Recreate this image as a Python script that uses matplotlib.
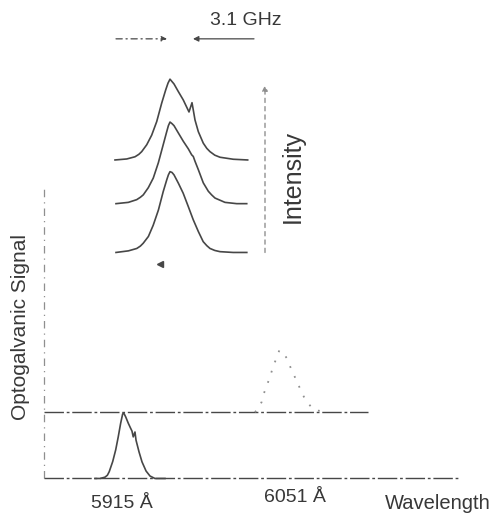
import matplotlib
matplotlib.use("Agg")
import matplotlib.pyplot as plt

plt.rcParams['font.family'] = ['Liberation Sans', 'DejaVu Sans']

# --- optogalvanic scan (wavelength in Angstrom, signal in arb. units) ---
lam1 = [5890.7, 5895.1, 5899.4, 5901.5, 5903.1, 5906.1, 5908.7, 5910.9, 5913.0, 5914.7, 5915.6,
        5917.3, 5919.6, 5921.7, 5922.8, 5923.9, 5925.4, 5926.3, 5928.9, 5931.5, 5935.0,
        5938.4, 5942.7, 5951.4]
sig1 = [0.0, 0.0, 0.02, 0.05, 0.105, 0.26, 0.44, 0.64, 0.85, 0.99, 1.01,
        0.95, 0.85, 0.77, 0.73, 0.64, 0.715, 0.59, 0.41, 0.255, 0.115,
        0.038, 0.0, 0.0]

lam2 = [6029.3, 6031.9, 6035.2, 6037.1, 6042.3, 6044.7, 6050.4, 6053.0, 6057.7, 6060.3,
        6066.9, 6069.8, 6073.3, 6078.5, 6081.3, 6085.7]
sig2 = [0.0, 0.05, 0.16, 0.29, 0.54, 0.68, 0.95, 0.93, 0.81, 0.68,
        0.425, 0.3, 0.185, 0.07, 0.03, 0.02]
offset2 = 1.02
lam_min, lam_max = 5846.6, 6205.2
upper_end = 6127.2

# --- intensity spectra (detuning in GHz, relative intensity) ---
f_top = [-6.875, -5.41, -4.375, -3.9, -3.54, -2.91, -2.29, -1.66, -1.04, -0.54, -0.25, 0.0,
         0.5, 1.04, 1.66, 2.16, 2.375, 2.59, 2.75, 2.91, 3.125, 3.54,
         4.16, 4.6, 5.0, 5.6, 6.25, 7.91, 9.71]
i_top = [0.0, 0.0125, 0.04, 0.07, 0.104, 0.19, 0.31, 0.48, 0.71, 0.875, 0.96, 1.01,
         0.95, 0.855, 0.75, 0.645, 0.6, 0.666, 0.716, 0.625, 0.5, 0.354,
         0.21, 0.145, 0.104, 0.06, 0.034, 0.009, 0.0]
f_mid = [-6.75, -5.21, -4.16, -3.7, -3.34, -2.71, -2.09, -1.46, -0.84, -0.41, -0.2, 0.0,
         0.25, 0.5, 1.04, 1.66, 2.29, 2.71, 2.91, 3.125, 3.54, 4.16, 4.79,
         5.2, 5.625, 6.875, 8.34, 9.59]
i_mid = [0.0, 0.016, 0.05, 0.08, 0.11, 0.2, 0.32, 0.51, 0.74, 0.9, 0.975, 1.02,
         1.0, 0.975, 0.884, 0.78, 0.685, 0.61, 0.59, 0.53, 0.425, 0.26, 0.155,
         0.11, 0.07, 0.016, 0.0, 0.0]
f_bot = [-6.75, -5.2, -4.15, -3.7, -3.35, -2.7, -2.1, -1.45, -0.85, -0.4, -0.2, 0.0,
         0.25, 0.5, 1.05, 1.65, 2.3, 2.9, 3.55, 4.15, 4.6, 5.0, 5.6, 6.25, 7.9, 9.6]
i_bot = [0.0, 0.02, 0.05, 0.08, 0.115, 0.2, 0.34, 0.53, 0.76, 0.91, 0.97, 1.01,
         1.0, 0.97, 0.865, 0.74, 0.57, 0.41, 0.26, 0.135, 0.085, 0.05, 0.025, 0.01, 0.0, 0.0]
offsets = [1.156, 0.61, 0.0]
spacing_label = "3.1 GHz"

ink = '#474747'
faint = '#8f8f8f'
txt = '#383838'

fig = plt.figure(figsize=(5.0, 5.16), dpi=100)

# main optogalvanic axes
ax = fig.add_axes([0.088, 0.0727, 0.828, 0.5688])
ax.set_xlim(lam_min, lam_max)
ax.set_ylim(0, 4.515)
ax.axis('off')
ax.axvline(lam_min, color=faint, lw=0.9, ls=(0, (6, 4, 1, 4)), clip_on=False)
ax.plot([lam_min, lam_max], [0, 0], color=ink, lw=1.0, ls=(0, (14, 2, 2, 2)), clip_on=False)
ax.plot([lam_min, upper_end], [offset2, offset2], color=ink, lw=1.0, ls=(0, (14, 2, 2, 2)),
        clip_on=False)
ax.plot(lam1, sig1, color=ink, lw=1.2, solid_joinstyle='round', clip_on=False)
ax.plot(lam2, [s + offset2 for s in sig2], color=faint, lw=1.3, ls=(0, (1, 5)), clip_on=False)

ax.text(5914, -0.38, "5915 Å", ha='center', va='center', fontsize=14, color=txt, clip_on=False)
ax.text(6064, -0.30, "6051 Å", ha='center', va='center', fontsize=14, color=txt, clip_on=False)
ax.text(6142, -0.38, "Wavelength", ha='left', va='center', fontsize=14.5, color=txt,
        clip_on=False)
fig.text(0.042, 1 - 327 / 516, "Optogalvanic Signal", rotation=90, ha='center', va='center',
         fontsize=15, color=txt)

# inset intensity spectra
ins = fig.add_axes([0.2, 0.4574, 0.46, 0.5233])
ins.set_xlim(-8.75, 20)
ins.set_ylim(-0.344, 3.031)
ins.axis('off')
for f, i, off in zip([f_top, f_mid, f_bot], [i_top, i_mid, i_bot], offsets):
    ins.plot(f, [v + off for v in i], color=ink, lw=1.2, solid_joinstyle='round')

ins.plot(-1.25, -0.14, marker='<', ms=4, color=ink, ls='none')

# intensity arrow
ins.annotate("", xy=(11.875, 2.09), xytext=(11.875, 0.0),
             arrowprops=dict(arrowstyle='-|>', color=faint, lw=1.0, ls=(0, (3, 3)),
                             mutation_scale=8, shrinkA=0, shrinkB=0))
ins.text(15.4, 0.955, "Intensity", rotation=90, ha='center', va='center', fontsize=18, color=txt)

# 3.1 GHz spacing arrows
ins.annotate("", xy=(-0.375, 2.67), xytext=(-6.75, 2.67),
             arrowprops=dict(arrowstyle='-|>', color=ink, lw=0.9, ls=(0, (5, 3, 1, 3)),
                             mutation_scale=8, shrinkA=0, shrinkB=0))
ins.annotate("", xy=(2.875, 2.67), xytext=(10.5, 2.67),
             arrowprops=dict(arrowstyle='-|>', color=ink, lw=0.9,
                             mutation_scale=8, shrinkA=0, shrinkB=0))
ins.text(5.0, 2.9, spacing_label, ha='left', va='center', fontsize=14, color=txt)

fig.savefig("out.png", dpi=100, facecolor='white')
